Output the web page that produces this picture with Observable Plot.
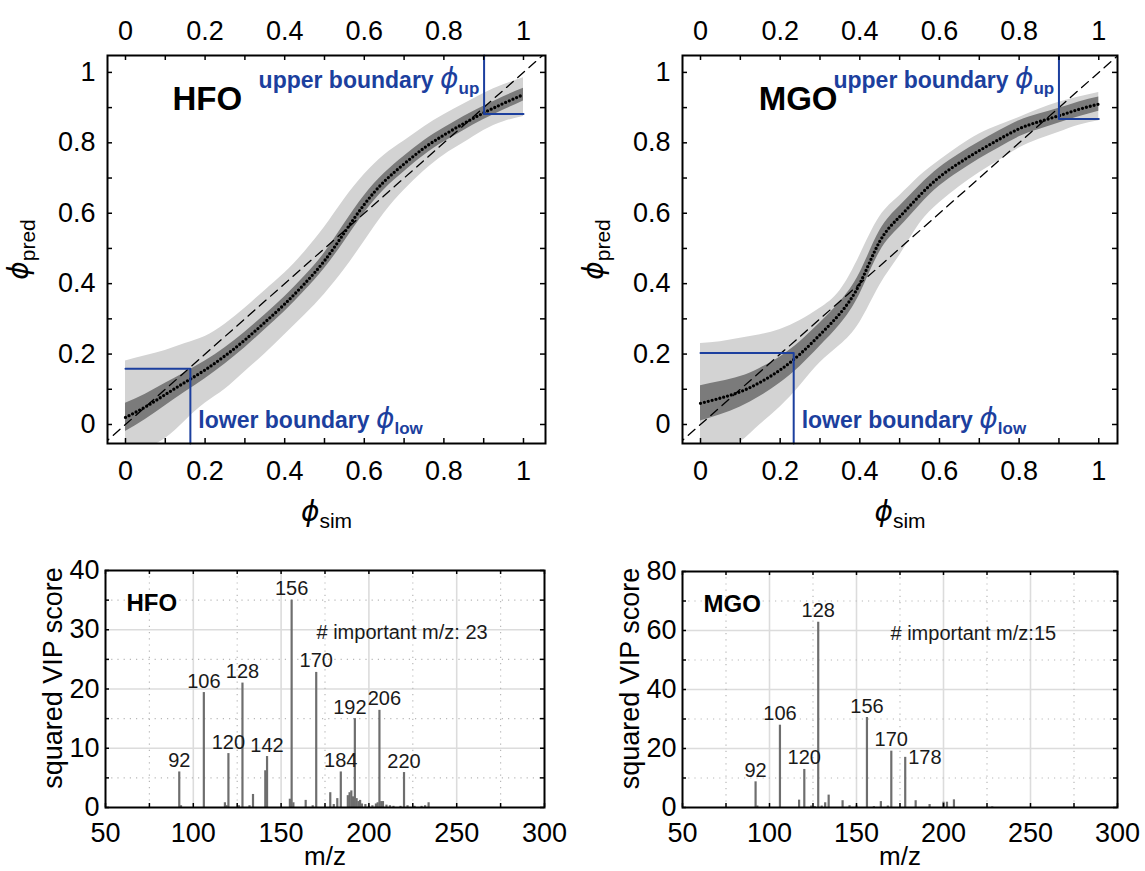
<!DOCTYPE html>
<html><head><meta charset="utf-8">
<script src="https://cdn.jsdelivr.net/npm/d3@7"></script>
<script src="https://cdn.jsdelivr.net/npm/@observablehq/plot@0.6"></script>
<style>
body{margin:0;background:#fff;}
#fig{position:relative;width:1145px;height:871px;background:#fff;}
</style></head><body><div id="fig"></div>
<script>
// ---------- data ----------
const phiTicks = [0, 0.2, 0.4, 0.6, 0.8, 1];
const phiMinor = [0, 0.1, 0.2, 0.3, 0.4, 0.5, 0.6, 0.7, 0.8, 0.9, 1];
const simGrid = [0,0.05,0.1,0.15,0.2,0.25,0.3,0.35,0.4,0.45,0.5,0.55,0.6,0.65,0.7,0.75,0.8,0.85,0.9,0.95,1];

const hfoMedian = [0.02,0.05,0.085,0.12,0.155,0.195,0.24,0.29,0.342,0.40,0.465,0.545,0.625,0.69,0.74,0.785,0.822,0.855,0.885,0.912,0.937];
const hfoDarkLo = [-0.02,0.014,0.053,0.092,0.13,0.172,0.218,0.269,0.321,0.379,0.443,0.52,0.6,0.667,0.718,0.764,0.802,0.835,0.866,0.893,0.919];
const hfoDarkHi = [0.06,0.086,0.117,0.148,0.18,0.218,0.262,0.311,0.363,0.421,0.487,0.57,0.65,0.713,0.762,0.806,0.842,0.875,0.904,0.931,0.955];
const hfoLightLo = [-0.10,-0.07,-0.04,0.01,0.06,0.10,0.15,0.20,0.255,0.31,0.37,0.44,0.52,0.60,0.665,0.72,0.765,0.80,0.835,0.86,0.875];
const hfoLightHi = [0.18,0.195,0.21,0.23,0.25,0.285,0.33,0.38,0.43,0.49,0.56,0.64,0.71,0.765,0.805,0.845,0.88,0.91,0.94,0.965,0.985];
const hfoBounds = {low: 0.163, lowPred: 0.158, up: 0.901, upPred: 0.882};

const mgoMedian = [0.06,0.075,0.093,0.12,0.155,0.2,0.255,0.315,0.40,0.52,0.59,0.65,0.703,0.743,0.778,0.81,0.84,0.86,0.877,0.895,0.91];
const mgoDarkLo = [0.01,0.028,0.05,0.08,0.118,0.165,0.222,0.283,0.37,0.49,0.56,0.622,0.677,0.718,0.754,0.786,0.817,0.838,0.856,0.874,0.89];
const mgoDarkHi = [0.11,0.122,0.136,0.16,0.192,0.235,0.288,0.347,0.43,0.55,0.62,0.678,0.729,0.768,0.802,0.834,0.863,0.882,0.898,0.916,0.93];
const mgoLightLo = [-0.10,-0.08,-0.05,0.0,0.05,0.11,0.175,0.225,0.29,0.395,0.48,0.57,0.63,0.675,0.715,0.75,0.785,0.81,0.83,0.85,0.863];
const mgoLightHi = [0.23,0.235,0.245,0.255,0.27,0.295,0.33,0.38,0.48,0.59,0.65,0.705,0.75,0.79,0.825,0.85,0.872,0.895,0.915,0.93,0.943];
const mgoBounds = {low: 0.234, lowPred: 0.203, up: 0.900, upPred: 0.868};

const mzTicks = [50, 100, 150, 200, 250, 300];
const mzMinor = [75, 125, 175, 225, 275];
const hfoYTicks = [0, 10, 20, 30, 40];
const hfoYMinor = [5, 15, 25, 35];
const mgoYTicks = [0, 20, 40, 60, 80];
const mgoYMinor = [10, 30, 50, 70];

const hfoMz    = [92, 93, 106, 118, 119, 120, 126, 128, 132, 134, 141, 142, 155, 156, 157, 164, 168, 170, 178, 180, 182, 184, 188, 189, 190, 191, 192, 193, 194, 195, 196, 198, 200, 202, 204, 205, 206, 207, 208, 210, 212, 214, 218, 220, 222, 226, 230, 232, 234];
const hfoScore = [6.0, 0.3, 19.4, 0.8, 0.3, 9.1, 0.3, 21.0, 0.3, 2.2, 6.2, 8.6, 1.4, 35.0, 0.8, 1.2, 0.3, 22.8, 2.5, 0.5, 1.5, 6.0, 2.0, 2.5, 2.8, 1.8, 15.0, 1.5, 1.0, 1.2, 0.6, 0.5, 0.2, 0.3, 0.6, 0.8, 16.4, 1.0, 1.0, 0.4, 0.3, 0.2, 0.2, 5.9, 0.3, 0.2, 0.2, 0.3, 0.8];
const hfoLabels = [92, 106, 120, 128, 142, 156, 170, 184, 192, 206, 220];

const mgoMz    = [92, 93, 106, 117, 120, 124, 126, 128, 130, 132, 134, 142, 146, 150, 156, 160, 164, 168, 170, 178, 184, 192, 200, 202, 206, 228];
const mgoScore = [8.7, 0.5, 27.9, 2.5, 12.9, 0.5, 0.3, 62.8, 0.5, 1.6, 4.2, 2.3, 0.6, 0.5, 30.5, 0.3, 2.0, 0.5, 19.1, 17.0, 2.3, 1.0, 1.8, 1.8, 2.6, 0.2];
const mgoLabels = [92, 106, 120, 128, 156, 170, 178];

// ---------- helpers ----------
const FONT = '"Liberation Sans", Arial, Helvetica, sans-serif';
const BLUE = "#1c3f9e";
const fig = document.getElementById("fig");
const fmtPhi = d => String(+d.toFixed(1));
const diag = [-0.2, 1.2];
const AX = 27;

function place(svg, left, top) {
  svg.style.position = "absolute";
  svg.style.left = left + "px";
  svg.style.top = top + "px";
  svg.style.overflow = "visible";
  fig.appendChild(svg);
}

// turn "text ϕ_sub" into tspans with italic phi and subscript
function richify(svg, phiSize, subSize) {
  const ns = "http://www.w3.org/2000/svg";
  svg.querySelectorAll("text").forEach(t => {
    if (t.querySelector("tspan")) return;
    const s = t.textContent;
    const m = s.match(/^(.*?)ϕ_(\w+)$/);
    if (!m) return;
    const bold = t.closest("[font-weight=bold]") !== null || t.getAttribute("font-weight") === "bold";
    t.textContent = "";
    if (m[1]) { const a = document.createElementNS(ns, "tspan"); a.textContent = m[1]; t.appendChild(a); }
    const p = document.createElementNS(ns, "tspan");
    p.textContent = "ϕ";
    p.setAttribute("font-style", "italic");
    p.setAttribute("font-weight", "normal");
    p.setAttribute("font-family", '"DejaVu Sans", sans-serif');
    p.setAttribute("font-size", (bold ? 28 : phiSize) + "px");
    t.appendChild(p);
    const sb = document.createElementNS(ns, "tspan");
    sb.textContent = m[2];
    sb.setAttribute("dy", "0.35em");
    sb.setAttribute("font-size", (bold ? 17 : subSize) + "px");
    t.appendChild(sb);
  });
}

function frameTicks(xs, ys, fw, fh, len) {
  const st = {stroke: "black", strokeWidth: 1.5};
  return [
    Plot.tickX(xs, {x: d => d, insetTop: fh - len, ...st}),
    Plot.tickX(xs, {x: d => d, insetBottom: fh - len, ...st}),
    Plot.tickY(ys, {y: d => d, insetRight: fw - len, ...st}),
    Plot.tickY(ys, {y: d => d, insetLeft: fw - len, ...st})
  ];
}

function phiPanel(o) {
  const rows = simGrid.map((x, i) => ({x, med: o.med[i], dl: o.dlo[i], dh: o.dhi[i], ll: o.llo[i], lh: o.lhi[i]}));
  const W = o.width, H = 540, mL = o.mL, mR = o.mR, mT = 55, mB = 97;
  const fw = W - mL - mR, fh = H - mT - mB;
  const b = o.bounds, yd = [-0.054, 1.048];
  const svg = Plot.plot({
    width: W, height: H, marginLeft: mL, marginRight: mR, marginTop: mT, marginBottom: mB,
    style: {fontFamily: FONT, fontSize: "21px", color: "black", background: "transparent"},
    x: {domain: o.xDomain, label: null},
    y: {domain: yd, label: null},
    marks: [
      Plot.areaY(rows, {x: "x", y1: "ll", y2: "lh", fill: "#d3d3d3", curve: "natural", clip: true}),
      Plot.areaY(rows, {x: "x", y1: "dl", y2: "dh", fill: "#7b7b7b", curve: "natural", clip: true}),
      Plot.line(diag, {x: d => d, y: d => d, stroke: "black", strokeWidth: 1.3, strokeDasharray: "9,6", clip: true}),
      Plot.line(rows, {x: "x", y: "med", curve: "natural", stroke: "black", strokeWidth: 3.3, strokeDasharray: "0,4", strokeLinecap: "round"}),
      Plot.line([[0, b.lowPred], [b.low, b.lowPred], [b.low, yd[0]]], {stroke: BLUE, strokeWidth: 2}),
      Plot.line([[b.up, yd[1]], [b.up, b.upPred], [1, b.upPred]], {stroke: BLUE, strokeWidth: 2}),
      ...frameTicks(phiMinor, phiMinor, fw, fh, 5),
      Plot.frame({stroke: "black", strokeWidth: 2}),
      Plot.axisX({anchor: "bottom", ticks: phiTicks, tickFormat: fmtPhi, tickSize: 0, tickPadding: 17, fontSize: AX, label: null}),
      Plot.axisX({anchor: "top", ticks: phiTicks, tickFormat: fmtPhi, tickSize: 0, tickPadding: 16, fontSize: AX, label: null}),
      Plot.axisY({anchor: "left", ticks: phiTicks, tickFormat: fmtPhi, tickSize: 0, tickPadding: 12, fontSize: AX, label: null}),
      Plot.text([o.name], {x: o.nameX, y: 0.892, text: d => d, fontSize: 33, fontWeight: "bold", textAnchor: "start", lineAnchor: "bottom"}),
      Plot.text(["upper boundary ϕ_up"], {x: b.up - 0.012, y: 0.955, text: d => d, fill: BLUE, fontSize: 23, fontWeight: "bold", textAnchor: "end", lineAnchor: "bottom"}),
      Plot.text(["lower boundary ϕ_low"], {x: b.low + 0.02, y: -0.01, text: d => d, fill: BLUE, fontSize: 23, fontWeight: "bold", textAnchor: "start", lineAnchor: "bottom"}),
      Plot.text(["ϕ_sim"], {frameAnchor: "bottom", dy: 77, text: d => d, fontSize: 22, textAnchor: "middle", lineAnchor: "bottom"}),
      Plot.text(["ϕ_pred"], {frameAnchor: "left", dx: -80, text: d => d, fontSize: 22, rotate: -90, textAnchor: "middle", lineAnchor: "bottom"})
    ]
  });
  richify(svg, 28, 21);
  return svg;
}

function vipPanel(o) {
  const rows = o.mz.map((m, i) => ({mz: m, score: o.score[i]}));
  const lab = rows.filter(r => o.labels.includes(r.mz));
  const W = o.width, H = 331, mL = o.mL, mR = o.mR, mT = o.mT, mB = 64;
  const fw = W - mL - mR, fh = H - mT - mB;
  const ls = {text: d => String(d.mz), fontSize: 20, fill: "#1a1a1a"};
  const left = o.nudgeLeft || [], right = o.nudgeRight || [], side = o.side || [];
  const center = lab.filter(r => !left.includes(r.mz) && !right.includes(r.mz) && !side.includes(r.mz));
  return Plot.plot({
    width: W, height: H, marginLeft: mL, marginRight: mR, marginTop: mT, marginBottom: mB,
    style: {fontFamily: FONT, fontSize: "21px", color: "black", background: "transparent"},
    x: {domain: [50, 300], label: null},
    y: {domain: o.yDomain, label: null},
    marks: [
      Plot.ruleX(mzTicks.slice(1, -1), {stroke: "#dcdcdc", strokeWidth: 1.6}),
      Plot.ruleY(o.yTicks.slice(1, -1), {stroke: "#dcdcdc", strokeWidth: 1.6}),
      Plot.ruleX(mzMinor, {stroke: "#b8b8b8", strokeWidth: 1.2, strokeDasharray: "1.2,5"}),
      Plot.ruleY(o.yMinor, {stroke: "#b8b8b8", strokeWidth: 1.2, strokeDasharray: "1.2,5"}),
      Plot.ruleX(rows, {x: "mz", y1: 0, y2: "score", stroke: "#6e6e6e", strokeWidth: 2.2}),
      Plot.text(center, {x: "mz", y: "score", dy: -5, lineAnchor: "bottom", ...ls}),
      Plot.text(lab.filter(r => left.includes(r.mz)), {x: "mz", y: "score", dy: -5, dx: -5, lineAnchor: "bottom", ...ls}),
      Plot.text(lab.filter(r => right.includes(r.mz)), {x: "mz", y: "score", dy: -5, dx: 5, lineAnchor: "bottom", ...ls}),
      Plot.text(lab.filter(r => side.includes(r.mz)), {x: "mz", y: "score", dx: 3, textAnchor: "start", lineAnchor: "middle", ...ls}),
      ...frameTicks(mzTicks.concat(mzMinor), o.yTicks.concat(o.yMinor), fw, fh, 4),
      Plot.frame({stroke: "black", strokeWidth: 2}),
      Plot.axisX({anchor: "bottom", ticks: mzTicks, tickSize: 0, tickPadding: 15, fontSize: AX, label: null}),
      Plot.axisY({anchor: "left", ticks: o.yTicks, tickSize: 0, tickPadding: 6, fontSize: AX, label: null}),
      Plot.text([o.name], {frameAnchor: "top-left", dx: 21, dy: 40, text: d => d, fontSize: 24, fontWeight: "bold", textAnchor: "start", lineAnchor: "bottom"}),
      Plot.text([o.countText], {frameAnchor: "top-left", dx: o.countDx, dy: 68, text: d => d, fontSize: 20, fill: "#1a1a1a", textAnchor: "start", lineAnchor: "bottom"}),
      Plot.text(["m/z"], {frameAnchor: "bottom", dy: 57, text: d => d, fontSize: 26, textAnchor: "middle", lineAnchor: "bottom"}),
      Plot.text(["squared VIP score"], {frameAnchor: "left", dx: -44, dy: -11, text: d => d, fontSize: 27, rotate: -90, textAnchor: "middle", lineAnchor: "bottom"})
    ]
  });
}

// ---------- panels ----------
place(phiPanel({name: "HFO", nameX: 0.118, med: hfoMedian, dlo: hfoDarkLo, dhi: hfoDarkHi, llo: hfoLightLo, lhi: hfoLightHi,
  bounds: hfoBounds, xDomain: [-0.0452, 1.0553], width: 572, mL: 107, mR: 27}), 0, 0);
place(phiPanel({name: "MGO", nameX: 0.146, med: mgoMedian, dlo: mgoDarkLo, dhi: mgoDarkHi, llo: mgoLightLo, lhi: mgoLightHi,
  bounds: mgoBounds, xDomain: [-0.0452, 1.047], width: 573, mL: 110, mR: 28}), 572, 0);
place(vipPanel({name: "HFO", mz: hfoMz, score: hfoScore, labels: hfoLabels, nudgeLeft: [192], nudgeRight: [206],
  yDomain: [0, 40], yTicks: hfoYTicks, yMinor: hfoYMinor, countText: "# important m/z: 23", countDx: 211,
  width: 572, mL: 105, mR: 28, mT: 30}), 0, 540);
place(vipPanel({name: "MGO", mz: mgoMz, score: mgoScore, labels: mgoLabels, side: [178],
  yDomain: [0, 80], yTicks: mgoYTicks, yMinor: mgoYMinor, countText: "# important m/z:15", countDx: 208,
  width: 573, mL: 110, mR: 28, mT: 31}), 572, 540);
</script></body></html>
